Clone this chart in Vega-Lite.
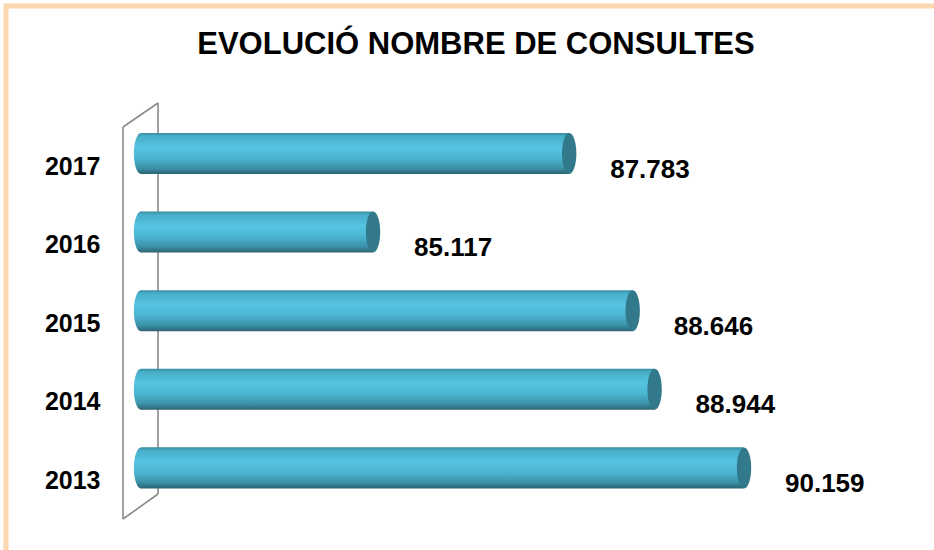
{
  "$schema": "https://vega.github.io/schema/vega-lite/v6.json",
  "autosize": {"type": "none"},
  "padding": {"left": 6, "top": 6, "right": 0, "bottom": 0},
  "width": 940,
  "height": 560,
  "background": "white",
  "title": {
    "text": "EVOLUCIÓ NOMBRE DE CONSULTES",
    "font": "Liberation Sans",
    "fontSize": 31,
    "fontWeight": "bold",
    "color": "black",
    "anchor": "middle",
    "frame": "group",
    "baseline": "alphabetic",
    "offset": -79
  },
  "config": {"view": {"stroke": "#fdd6b2", "strokeWidth": 5}},
  "data": {
    "values": [
      {"year": "2017", "value": 87783, "label": "87.783"},
      {"year": "2016", "value": 85117, "label": "85.117"},
      {"year": "2015", "value": 88646, "label": "88.646"},
      {"year": "2014", "value": 88944, "label": "88.944"},
      {"year": "2013", "value": 90159, "label": "90.159"}
    ]
  },
  "layer": [
    {
      "data": {"values": [{}]},
      "mark": {"type": "rule", "color": "#8a8a8a", "strokeWidth": 1.6},
      "encoding": {
        "x": {"datum": 82195, "type": "quantitative", "scale": {"domain": [80129, 92904], "zero": false, "nice": false}, "axis": null},
        "y": {"datum": "2017", "type": "nominal", "bandPosition": -0.732},
        "y2": {"datum": "2013", "bandPosition": 1.137}
      }
    },
    {
      "data": {"values": [{}]},
      "mark": {"type": "rule", "color": "#8a8a8a", "strokeWidth": 1.6},
      "encoding": {
        "x": {"datum": 81719, "type": "quantitative"},
        "y": {"datum": "2017", "type": "nominal", "bandPosition": -0.146},
        "y2": {"datum": "2013", "bandPosition": 1.746}
      }
    },
    {
      "data": {"values": [{}]},
      "mark": {"type": "rule", "color": "#8a8a8a", "strokeWidth": 1.6},
      "encoding": {
        "x": {"datum": 81719, "type": "quantitative"},
        "x2": {"datum": 82195},
        "y": {"datum": "2017", "type": "nominal", "bandPosition": -0.146},
        "y2": {"datum": "2017", "bandPosition": -0.732}
      }
    },
    {
      "data": {"values": [{}]},
      "mark": {"type": "rule", "color": "#8a8a8a", "strokeWidth": 1.6},
      "encoding": {
        "x": {"datum": 81719, "type": "quantitative"},
        "x2": {"datum": 82195},
        "y": {"datum": "2013", "type": "nominal", "bandPosition": 1.746},
        "y2": {"datum": "2013", "bandPosition": 1.137}
      }
    },
    {
      "mark": {
        "type": "point",
        "shape": "M0,-1A0.35,1,0,1,1,0,1A0.35,1,0,1,1,0,-1Z",
        "size": 1681,
        "filled": true,
        "opacity": 1,
        "strokeWidth": 0,
        "fill": {
          "gradient": "linear", "x1": 0, "y1": 0, "x2": 0, "y2": 1,
          "stops": [
            {"offset": 0, "color": "#3a8ca1"},
            {"offset": 0.08, "color": "#48afc9"},
            {"offset": 0.35, "color": "#55c4e2"},
            {"offset": 0.6, "color": "#4cb6d2"},
            {"offset": 0.85, "color": "#3b93a9"},
            {"offset": 1, "color": "#2b6372"}
          ]
        }
      },
      "encoding": {
        "x": {"datum": 81964, "type": "quantitative"},
        "y": {"field": "year", "type": "nominal"}
      }
    },
    {
      "mark": {
        "type": "bar",
        "fill": {
          "gradient": "linear", "x1": 0, "y1": 0, "x2": 0, "y2": 1,
          "stops": [
            {"offset": 0, "color": "#3a8ca1"},
            {"offset": 0.08, "color": "#48afc9"},
            {"offset": 0.35, "color": "#55c4e2"},
            {"offset": 0.6, "color": "#4cb6d2"},
            {"offset": 0.85, "color": "#3b93a9"},
            {"offset": 1, "color": "#2b6372"}
          ]
        }
      },
      "encoding": {
        "x": {"field": "value", "type": "quantitative"},
        "x2": {"datum": 81964},
        "y": {
          "field": "year",
          "type": "nominal",
          "scale": {
            "domain": ["2017", "2016", "2015", "2014", "2013"],
            "range": [127, 482.4],
            "paddingInner": 0.478,
            "paddingOuter": 0,
            "round": false
          },
          "axis": {
            "title": null,
            "domain": false,
            "ticks": false,
            "tickSize": 0,
            "grid": false,
            "offset": -94,
            "labelPadding": 0,
            "labelAlign": "right",
            "labelBaseline": "middle",
            "labelOffset": 13,
            "labelFont": "Liberation Sans",
            "labelFontSize": 25,
            "labelFontWeight": "bold",
            "labelColor": "black"
          }
        }
      }
    },
    {
      "mark": {
        "type": "point",
        "shape": "M0,-1A0.35,1,0,1,1,0,1A0.35,1,0,1,1,0,-1Z",
        "size": 1681,
        "filled": true,
        "opacity": 1,
        "strokeWidth": 0,
        "fill": "#31798b"
      },
      "encoding": {
        "x": {"field": "value", "type": "quantitative"},
        "y": {"field": "year", "type": "nominal"}
      }
    },
    {
      "mark": {
        "type": "text",
        "align": "left",
        "baseline": "middle",
        "dx": 41,
        "dy": 16,
        "font": "Liberation Sans",
        "fontSize": 26,
        "fontWeight": "bold",
        "color": "black"
      },
      "encoding": {
        "x": {"field": "value", "type": "quantitative"},
        "y": {"field": "year", "type": "nominal"},
        "text": {"field": "label"}
      }
    }
  ]
}
